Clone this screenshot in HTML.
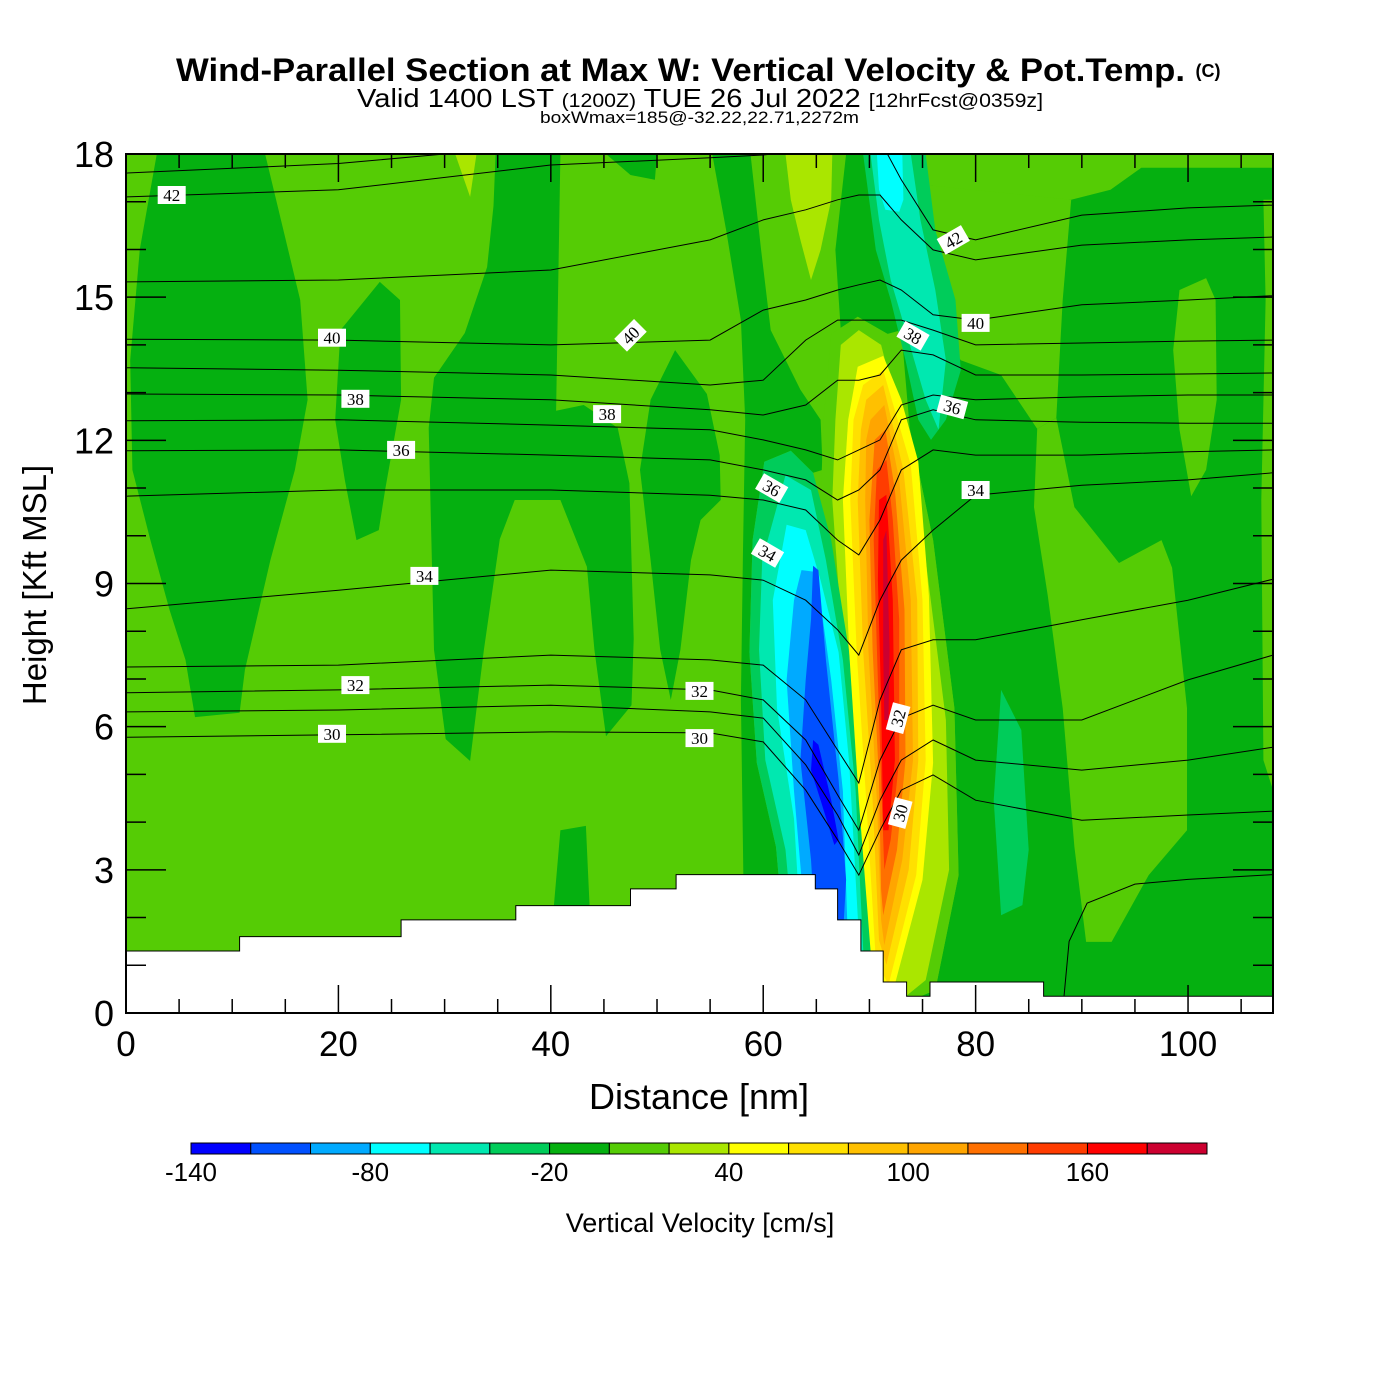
<!DOCTYPE html>
<html><head><meta charset="utf-8"><style>
html,body{margin:0;padding:0;background:#fff}
svg{display:block}
text{font-family:"Liberation Sans",sans-serif}
</style></head><body>
<svg id="chart" width="1400" height="1400" viewBox="0 0 1400 1400" xmlns="http://www.w3.org/2000/svg">
<text x="176" y="81" font-size="32" font-weight="bold" textLength="1009" lengthAdjust="spacingAndGlyphs">Wind-Parallel Section at Max W: Vertical Velocity &amp; Pot.Temp.</text>
<text x="1208" y="77" text-anchor="middle" font-size="18" font-weight="bold">(C)</text>
<text x="357" y="107" font-size="26" textLength="686" lengthAdjust="spacingAndGlyphs">Valid 1400 LST <tspan font-size="19">(1200Z)</tspan> TUE 26 Jul 2022 <tspan font-size="19">[12hrFcst@0359z]</tspan></text>
<text x="540" y="123" font-size="17" textLength="319" lengthAdjust="spacingAndGlyphs">boxWmax=185@-32.22,22.71,2272m</text>
<defs><clipPath id="pc"><rect x="126" y="154" width="1147" height="859"/></clipPath></defs>
<g id="fills" clip-path="url(#pc)"></g>
<g id="thetas" clip-path="url(#pc)"></g>
<g id="terrain" clip-path="url(#pc)"></g>
<g id="clabels"></g>
<rect x="126" y="154" width="1147" height="859" fill="none" stroke="#000" stroke-width="2"/>
<g id="axes"></g>
<text x="699" y="1109" text-anchor="middle" font-size="36">Distance [nm]</text>
<text x="0" y="0" transform="translate(46,585) rotate(-90)" text-anchor="middle" font-size="33">Height [Kft MSL]</text>
<g id="cbar"></g>
<text x="700" y="1232" text-anchor="middle" font-size="27">Vertical Velocity [cm/s]</text>
</svg>
<script>
const NS='http://www.w3.org/2000/svg';
const X0=126,X1=1273,Y0=1013,Y1=154,XMAX=108,YMAX=18;
const sx=v=>X0+v/XMAX*(X1-X0);
const sy=v=>Y0-v/YMAX*(Y0-Y1);
function mk(tag,parent){const e=document.createElementNS(NS,tag);parent.appendChild(e);return e;}

const levels=[-140,-120,-100,-80,-60,-40,-20,0,20,40,60,80,100,120,140,160,180,200];
const levelColors=['#0000ff','#0050ff','#00aaff','#00ffff','#00e8b0','#00cc5a','#05b010','#55cc05','#aae600','#ffff00','#ffe000','#ffc000','#ffa500','#ff7000','#ff3c00','#ff0000','#cc0030'];
const cbarTicks=[-140,-80,-20,40,100,160];

// filled regions: [bin index, polygon in [nm,kft]]
const regionBins=[6,6,6,6,6,6,6,6,6, 7,7,7,7,7, 8,8, 5, 5,4,3, 7,8, 5,4,3,2,1,0, 9,10,11,12,13,14,15,16];
const regionShapes=[
 [[2.9,18],[13.1,18],[16.4,14.94],[17.1,12.85],[15.9,11.38],[13.6,9.49],[11.2,7.19],[10.7,6.29],[6.5,6.2],[5.6,7.4],[4.1,8.45],[2.3,9.91],[0.6,11.38],[0.4,13.68],[1.3,16.0]],
 [[23.9,15.32],[25.8,14.94],[25.9,12.85],[24.4,10.96],[23.8,10.12],[21.7,9.91],[20.6,11.17],[19.7,12.43],[20.2,14.31]],
 [[34.8,18],[40.9,18],[40.5,12.62],[43.1,12.74],[46.3,12.26],[47.4,11.1],[47.8,7.84],[47.6,6.45],[45.2,5.8],[44.1,7.61],[43.4,9.35],[40.9,10.75],[36.6,10.75],[35.2,9.93],[33.7,7.61],[32.4,5.28],[30.1,5.74],[29.0,7.61],[28.5,12.26],[29.0,13.31],[31.9,14.25],[34.0,15.63],[34.6,16.91]],
 [[45.2,18],[50,18],[49.8,17.46],[47.5,17.56]],
 [[51.7,13.89],[54.7,12.97],[55.9,11.69],[56.0,10.75],[54.1,10.33],[53.2,9.49],[52.2,7.61],[51.3,6.56],[50.3,7.61],[49.4,9.49],[48.4,11.38],[49.4,12.85]],
 [[55.2,18],[58.8,18],[59.8,15.99],[60.7,14.31],[63.5,13.06],[65.4,12.43],[65.6,11.38],[64.7,11.32],[62.6,11.78],[60.1,11.55],[59.0,9.91],[58.7,7.56],[59.4,5.24],[61.2,3.48],[62.6,0],[58.3,0],[58.1,3.42],[57.9,6.56],[58.1,9.70],[58.3,12.43],[57.9,14.52],[56.5,16.41]],
 [[67.8,18],[70.1,18],[71.1,15.99],[73.0,14.31],[71.7,14.23],[68.9,14.59],[67.3,14.31],[66.8,15.99]],
 [[40.9,3.83],[43.3,3.92],[43.8,1.5],[40.0,1.5]],
 [[73.0,18],[108,18],[108,0],[71.1,0],[76.2,0.48],[78.4,2.89],[78.0,6.39],[76.0,9.91],[73.8,12.24],[73.0,14.31],[71.1,15.99],[70.1,18]],
 [[73.4,18],[108,18],[108,17.71],[95.6,17.71],[92.7,17.25],[89.0,17.04],[82.4,17.08],[78.6,17.25],[75.3,17.35]],
 [[75.3,17.35],[89.0,17.04],[88.2,14.94],[87.6,12.47],[85.8,12.24],[82.4,13.37],[78.6,13.68],[77.2,14.10],[75.8,14.94],[74.8,16.20]],
 [[85.8,12.24],[87.6,12.47],[89.3,10.60],[93.5,9.43],[97.5,9.91],[98.5,9.33],[99.9,6.39],[99.9,3.83],[96.3,2.89],[92.8,1.49],[90.4,1.49],[89.3,3.48],[88.2,6.39],[86.8,8.74],[85.5,10.60]],
 [[99.2,15.15],[101.7,15.40],[102.6,14.94],[102.7,12.85],[101.7,11.38],[100.3,10.83],[99.2,12.22],[98.6,13.89]],
 [[107.1,17.04],[108,17.04],[108,4.67],[107.1,5.30],[106.9,10.75],[107.3,14.94]],
 [[62.1,18],[66.5,18],[66.4,17.04],[65.4,15.99],[64.5,15.36],[63.5,16.20],[62.6,17.04]],
 [[31.0,18],[33.0,18],[32.4,17.10]],
 [[82.4,6.77],[84.3,5.93],[85.0,3.42],[84.4,2.26],[82.4,2.05],[81.7,4.46]],
 [[69.4,18],[75.3,18],[76.2,16.41],[78.1,14.94],[78.6,13.47],[77.2,12.43],[75.8,12.01],[74.6,12.43],[73.4,13.68],[72.0,14.94],[70.6,15.99]],
 [[70.1,18],[73.9,18],[74.8,16.62],[76.2,15.15],[77.2,13.68],[76.5,12.22],[75.3,12.85],[73.4,14.31],[72.0,15.36],[70.9,16.62]],
 [[70.7,18],[73.1,18],[73.2,17.04],[72.8,16.79],[71.5,16.83],[70.9,17.25]],
 [[65.7,12.47],[66.4,14.23],[68.9,14.59],[71.7,14.23],[73.8,12.24],[76.0,9.91],[78.0,6.39],[78.4,2.89],[76.2,0.48],[71.1,0],[69.4,0],[68.1,4.46],[66.8,7.61],[65.4,10.75]],
 [[66.8,12.43],[67.3,14.00],[69.0,14.31],[71.1,14.00],[73.4,12.01],[75.3,9.49],[77.2,6.14],[77.5,3.00],[75.3,0.69],[71.5,0],[69.7,0],[68.7,4.46],[67.5,7.61],[66.5,10.75]],
 [[60.1,11.55],[62.6,11.78],[64.7,11.32],[66.4,9.91],[68.1,7.56],[69.3,4.65],[70.6,0],[62.6,0],[61.2,3.48],[59.4,5.24],[58.7,7.56],[59.0,9.91]],
 [[62.1,11.27],[64.5,10.96],[65.9,9.49],[67.5,7.40],[68.7,4.67],[69.7,0],[63.5,0],[62.1,3.42],[60.2,5.30],[59.6,7.61],[59.9,9.49]],
 [[62.2,10.23],[64.0,10.12],[65.4,9.07],[67.1,7.56],[68.1,5.24],[69.4,0],[64.0,0],[62.9,4.07],[61.3,6.39],[60.9,8.65]],
 [[63.6,9.28],[65.0,9.24],[66.4,6.98],[67.5,4.65],[68.2,0],[64.7,0],[62.9,4.65],[62.2,6.98],[62.9,8.65]],
 [[64.7,9.37],[65.2,9.28],[65.9,7.40],[67.1,4.88],[67.8,2.79],[67.1,0],[65.4,0],[64.5,3.21],[63.5,5.30],[64.0,6.98],[64.5,8.24]],
 [[64.7,5.72],[65.2,5.62],[66.4,4.46],[67.1,3.63],[66.7,3.52],[65.4,4.46],[64.5,5.09]],
 [[68.9,13.54],[71.3,13.77],[73.0,12.85],[74.6,11.55],[75.6,8.74],[76.0,5.24],[75.0,2.79],[72.0,0.27],[70.9,0],[70.1,1.32],[69.0,4.46],[68.1,7.56],[67.5,10.75],[68.0,12.43]],
 [[68.5,12.43],[69.4,13.16],[71.3,13.47],[73.9,11.48],[75.0,8.65],[75.3,5.30],[74.4,2.89],[71.8,0.59],[70.6,1.11],[69.7,4.46],[68.8,7.56],[68.2,10.75]],
 [[69.2,12.22],[69.7,12.85],[71.3,13.16],[73.2,11.38],[74.5,8.65],[74.6,5.30],[73.7,3.00],[71.6,1.01],[70.9,1.53],[70.3,4.46],[69.4,7.61],[68.9,10.75]],
 [[69.7,12.01],[70.1,12.43],[71.4,12.74],[72.8,11.17],[73.9,8.65],[74.1,5.30],[73.1,3.21],[71.4,1.42],[71.1,1.95],[70.7,4.46],[69.9,7.61],[69.6,10.75]],
 [[70.0,10.33],[70.5,12.01],[71.5,12.22],[72.4,10.96],[73.3,8.45],[73.4,5.30],[72.6,3.42],[71.3,2.05],[71.1,2.58],[70.9,4.88],[70.3,7.61]],
 [[70.4,9.91],[70.7,11.38],[71.6,11.59],[72.2,10.33],[72.8,8.24],[72.8,5.30],[72.0,3.63],[71.4,3.00],[71.1,4.88],[70.7,7.61]],
 [[70.8,9.07],[70.9,10.75],[71.6,10.86],[72.2,8.65],[72.4,5.30],[71.8,3.83],[71.3,3.83],[71.1,6.56]],
 [[71.3,9.91],[71.6,10.12],[71.9,7.61],[71.8,6.14],[71.4,6.14],[71.3,7.61]]
];

// potential temperature contours (x in nm, heights in kft)
const thetaX=[0,20,40,55,60,64,67,69,71,73,76,80,90,100,108];
const thetaValues=[30,31,32,33,34,35,36,37,38,39,40,41,42];
const theta30=[5.78,5.83,5.89,5.87,5.68,4.67,3.63,2.89,3.83,4.67,4.99,4.46,4.04,4.15,4.23];
const theta31=[6.31,6.35,6.45,6.31,6.18,5.20,4.15,3.31,4.46,5.30,5.72,5.30,5.09,5.30,5.57];
const theta32=[6.71,6.77,6.87,6.77,6.56,5.72,4.57,3.83,5.30,6.18,6.45,6.14,6.14,6.98,7.50];
const theta33=[7.25,7.29,7.50,7.40,7.29,6.56,5.51,4.82,6.56,7.61,7.82,7.82,8.24,8.65,9.09];
const theta34=[8.47,8.86,9.28,9.18,9.07,8.65,8.03,7.50,8.65,9.49,10.12,10.85,11.06,11.17,11.32];
const theta35=[10.83,10.96,10.96,10.85,10.75,10.54,9.91,9.60,10.33,11.38,11.80,11.69,11.69,11.76,11.80];
const theta36=[11.78,11.80,11.69,11.59,11.38,11.17,10.75,10.96,11.38,12.43,12.64,12.43,12.38,12.36,12.36];
const theta37=[12.41,12.43,12.32,12.22,12.01,11.80,11.59,11.80,12.01,12.74,12.95,12.85,12.91,12.95,12.95];
const theta38=[12.97,12.95,12.85,12.64,12.53,12.74,13.26,13.26,13.37,13.89,13.79,13.37,13.37,13.39,13.41];
const theta39=[13.52,13.47,13.37,13.16,13.26,14.10,14.52,14.52,14.52,14.52,14.31,14.00,14.04,14.08,14.10];
const theta40=[14.12,14.10,14.00,14.10,14.73,14.94,15.15,15.26,15.36,15.15,14.63,14.52,14.84,14.94,15.03];
const theta41=[15.32,15.36,15.57,16.20,16.62,16.83,17.04,17.14,17.14,16.62,15.99,15.78,16.09,16.20,16.26];
const theta42=[17.10,17.25,17.77,17.92,17.98,18.08,18.19,18.29,18.29,17.46,16.41,16.20,16.72,16.87,16.93];
const theta43X=[0,20,30,36];
const theta43=[17.6,17.8,18.0,18.3];
const theta29X=[88.3,88.8,90.5,95,100,108];
const theta29=[0.3,1.5,2.3,2.7,2.8,2.9];

// contour labels: [nm, kft, text, rotation]
const labelX=[4.3,19.4,21.6,25.9,28.1,21.6,19.4,47.5,45.3,54.0,54.0,60.8,60.4,77.9,80.0,74.1,77.8,80.0,72.7,72.9];
const labelY=[17.14,14.15,12.87,11.8,9.16,6.87,5.85,14.2,12.55,6.75,5.76,11.0,9.64,16.2,14.46,14.19,12.7,10.96,6.18,4.19];
const labelText=['42','40','38','36','34','32','30','40','38','32','30','36','34','42','40','38','36','34','32','30'];
const labelRot=[0,0,0,0,0,0,0,-45,0,0,0,30,30,-30,0,30,15,0,-75,-75];

// terrain steps
const terrainStart=[0,10.7,25.9,36.7,47.5,51.8,64.9,67.0,69.2,71.3,73.5,75.7,86.4];
const terrainEnd=[10.7,25.9,36.7,47.5,51.8,64.9,67.0,69.2,71.3,73.5,75.7,86.4,108];
const terrainH=[1.3,1.6,1.95,2.25,2.6,2.9,2.6,1.95,1.3,0.65,0.35,0.65,0.35];

const xTicks=[0,20,40,60,80,100];
const yTicks=[0,3,6,9,12,15,18];

// ---- fills
const fills=document.getElementById('fills');
const bg=mk('rect',fills);


bg.setAttribute('x',sx(0));bg.setAttribute('y',sy(YMAX));bg.setAttribute('width',sx(XMAX)-sx(0));bg.setAttribute('height',sy(0)-sy(YMAX));
bg.setAttribute('fill',levelColors[7]);
regionShapes.forEach((poly,i)=>{
  const p=mk('polygon',fills);
  
  
  p.setAttribute('points',poly.map(q=>sx(q[0]).toFixed(1)+','+sy(q[1]).toFixed(1)).join(' '));
  p.setAttribute('fill',levelColors[regionBins[i]]);
});

// ---- theta lines
const th=document.getElementById('thetas');
const thetaSeries=[theta30,theta31,theta32,theta33,theta34,theta35,theta36,theta37,theta38,theta39,theta40,theta41,theta42];
function line(xs,ys,name){
  const pl=mk('polyline',th);
  
  
  pl.setAttribute('points',xs.map((x,i)=>sx(x).toFixed(1)+','+sy(ys[i]).toFixed(1)).join(' '));
  pl.setAttribute('fill','none');pl.setAttribute('stroke','#000');pl.setAttribute('stroke-width','1');
}
thetaSeries.forEach((s,i)=>line(thetaX,s,'theta-'+thetaValues[i]));
line(theta43X,theta43,'theta-43');
line(theta29X,theta29,'theta-29');

// ---- terrain
const ter=document.getElementById('terrain');
let pts=[[0,0]];
terrainStart.forEach((s,i)=>{pts.push([s,terrainH[i]]);pts.push([terrainEnd[i],terrainH[i]]);});
pts.push([XMAX,0]);
const tp=mk('polygon',ter);


tp.setAttribute('points',pts.map(q=>sx(q[0]).toFixed(1)+','+sy(q[1]).toFixed(1)).join(' '));
tp.setAttribute('fill','#fff');tp.setAttribute('stroke','#000');tp.setAttribute('stroke-width','1');

// ---- contour labels
const cl=document.getElementById('clabels');
labelText.forEach((t,i)=>{
  const g=mk('g',cl);
  
  
  g.setAttribute('transform','translate('+sx(labelX[i]).toFixed(1)+','+sy(labelY[i]).toFixed(1)+') rotate('+labelRot[i]+')');
  const r=mk('rect',g);r.setAttribute('x',-14);r.setAttribute('y',-9);r.setAttribute('width',28);r.setAttribute('height',18);r.setAttribute('fill','#fff');
  const tx=mk('text',g);tx.setAttribute('x',0);tx.setAttribute('y',6);tx.setAttribute('text-anchor','middle');
  tx.setAttribute('font-size','17');tx.setAttribute('style','font-family:"Liberation Serif",serif');tx.textContent=t;
});

// ---- axes
const ax=document.getElementById('axes');
function tick(x1,y1,x2,y2,name){const l=mk('line',ax);
  
  
  l.setAttribute('x1',x1);l.setAttribute('y1',y1);l.setAttribute('x2',x2);l.setAttribute('y2',y2);l.setAttribute('stroke','#000');l.setAttribute('stroke-width','1.5');}
for(let v=0;v<=XMAX;v+=5){
  const major=v%20===0, L=major?28:14, x=sx(v);
  tick(x,Y0,x,Y0-L,'x-tick');tick(x,Y1,x,Y1+L,'x-tick-top');
}
for(let v=0;v<=YMAX;v+=1){
  const major=v%3===0, L=major?40:20, y=sy(v);
  tick(X0,y,X0+L,y,'y-tick');tick(X1,y,X1-L,y,'y-tick-right');
}
xTicks.forEach(v=>{const t=mk('text',ax);
  
  
  t.setAttribute('x',sx(v));t.setAttribute('y',1056);t.setAttribute('text-anchor','middle');t.setAttribute('font-size','35');t.textContent=v;});
yTicks.forEach(v=>{const t=mk('text',ax);
  
  
  t.setAttribute('x',114);t.setAttribute('y',sy(v)+13);t.setAttribute('text-anchor','end');t.setAttribute('font-size','36');t.textContent=v;});

// ---- colorbar
const cb=document.getElementById('cbar');
const CB0=191,CB1=1207,nb=levelColors.length,bw=(CB1-CB0)/nb;
const cx=v=>CB0+(v-levels[0])/(levels[levels.length-1]-levels[0])*(CB1-CB0);
levelColors.forEach((c,i)=>{const r=mk('rect',cb);
  
  
  r.setAttribute('x',cx(levels[i]));r.setAttribute('y',1143);r.setAttribute('width',bw);r.setAttribute('height',11);
  r.setAttribute('fill',c);r.setAttribute('stroke','#000');r.setAttribute('stroke-width','1');});
cbarTicks.forEach(v=>{const t=mk('text',cb);
  
  
  t.setAttribute('x',cx(v));t.setAttribute('y',1181);t.setAttribute('text-anchor','middle');t.setAttribute('font-size','26');t.textContent=v;});
</script>
</body></html>
